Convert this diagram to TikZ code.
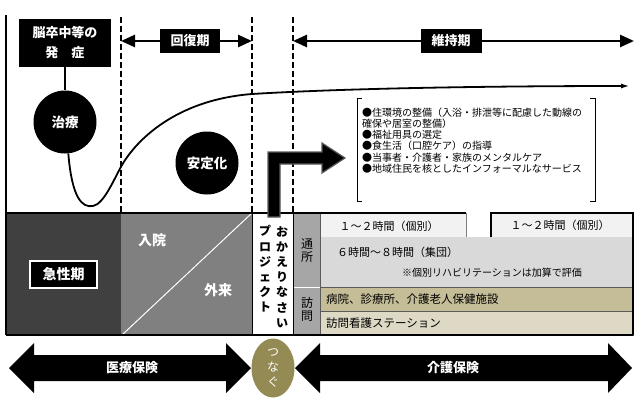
\documentclass[tikz,border=0pt]{standalone}
\usepackage{fontspec}
\setmainfont{Noto Sans CJK JP}
\usepackage{xcolor}
\usepackage{tikz}
\usetikzlibrary{arrows.meta,positioning,calc,shapes.geometric}
\definecolor{ink}{HTML}{000000}
\definecolor{acute}{HTML}{404040}
\definecolor{midgray}{HTML}{808080}
\definecolor{tabgray}{HTML}{A6A6A6}
\definecolor{rowlight}{HTML}{F2F2F2}
\definecolor{rowgray}{HTML}{D9D9D9}
\definecolor{khaki}{HTML}{C4BD97}
\definecolor{khakilight}{HTML}{DDD9C4}
\definecolor{olive}{HTML}{948A54}
\definecolor{rimgray}{HTML}{5A5A5A}
\newcommand{\fsz}[2]{\fontsize{#1}{#2}\selectfont}

\begin{document}
\begin{tikzpicture}[x=1pt,y=-1pt, every node/.style={inner sep=0pt}, hd/.style={fill=ink,text=white,font=\fsz{13}{20}\bfseries,align=center}, dot/.style={circle,fill=ink,text=white,minimum size=63pt,font=\fsz{13.5}{16}\bfseries}, dashline/.style={line width=1.5pt,dash pattern=on 6pt off 3pt}, span/.style={line width=2.5pt,{Triangle[length=14pt,width=12pt]}-{Triangle[length=14pt,width=12pt]}}, wt/.style={text=white,font=\fsz{14}{16}\bfseries}, cell/.style={font=\fsz{11}{13}}, vtext/.style={align=center,font=\fsz{12}{15.2}\bfseries}, band/.style={fill=ink}]
\useasboundingbox (0,0) rectangle (638,402);
\fill[white] (0,0) rectangle (638,402);

\fill[acute] (6,213) rectangle (121,335);
\fill[midgray] (121,213) rectangle (252,335);
\fill[tabgray] (293,213) rectangle (320,335);
\fill[rowlight] (320,213) rectangle (466,237);
\fill[rowlight] (491,213) rectangle (633,237);
\fill[rowgray] (320,237) rectangle (633,287);
\draw[rimgray,line width=.6pt,fill=khaki] (320,287) rectangle (633,311);
\draw[rimgray,line width=.6pt,fill=khakilight] (320,311) rectangle (633,335);
\draw[white,line width=1pt] (122,335) -- (252,213);
\draw[gray,line width=.6pt] (466,213) -- (466,237);
\draw[white,line width=.8pt] (293,287) -- (320,287);
\draw[rimgray,line width=.6pt] (320,213) -- (320,335);

\foreach \x in {121,252,293} \draw[dashline] (\x,17) -- (\x,213);
\draw[line width=1.8pt] (6,15) -- (6,335);
\draw[line width=1.8pt] (6,213) -- (466,213);
\draw[line width=1.8pt] (491,237) -- (491,213) -- (633,213) -- (633,335);
\draw[line width=1.2pt] (6,335) -- (633,335);
\draw[line width=1pt] (252,213) -- (252,335);
\draw[line width=1pt] (293,213) -- (293,335);

\node[hd,minimum width=92pt,minimum height=48pt] (onset) at (65,43) {脳卒中等の\\発　症};
\node[dot] (cure) at (65,122) {治療};
\node[dot] (stable) at (207,163) {安定化};
\draw[line width=1.5pt] (onset.south) -- (cure.north);
\draw[line width=1.8pt,-{Latex[length=9pt,width=5pt]}] (cure.-84) .. controls (72,198) and (82,208) .. (93,206) .. controls (104,204) and (114,179) .. (122,165) .. controls (136,141) and (175,100) .. (252,94) .. controls (350,88) and (500,86) .. (630,86);

\coordinate (r0) at (121,41);
\coordinate (r1) at (252,41);
\coordinate (m0) at (293,41);
\coordinate (m1) at (634,41);
\draw[span] (r0) -- (r1);
\draw[span] (m0) -- (m1);
\node[hd,minimum width=60pt,minimum height=24pt] (rec) at (190,41) {回復期};
\node[hd,minimum width=61pt,minimum height=24pt] (keep) at (451,41) {維持期};

\draw[line width=.8pt] (362,98) -- (357,98) -- (357,201) -- (362,201);
\draw[line width=.8pt] (590,98) -- (595,98) -- (595,201) -- (590,201);
\node[anchor=west,align=left,font=\fsz{10}{11.1}] (list) at (362,140.5) {●住環境の整備（入浴・排泄等に配慮した動線の\\確保や居室の整備）\\●福祉用具の選定\\●食生活（口腔ケア）の指導\\●当事者・介護者・家族のメンタルケア\\●地域住民を核としたインフォーマルなサービス};
\draw[rimgray,line width=1.2pt,fill=ink] (268,217) -- (268,152) -- (322,152) -- (322,143) -- (345,158) -- (322,173) -- (322,164) -- (280,164) -- (280,217) -- cycle;

\node[fill=ink,draw=white,line width=1.2pt,minimum width=67pt,minimum height=27pt,wt] (acu) at (63.5,274.5) {急性期};
\node[wt] (inp) at (152,240) {入院};
\node[wt] (outp) at (218,290) {外来};
\node[vtext] (home) at (282,277) {お\\か\\え\\り\\な\\さ\\い};
\node[vtext] (proj) at (265,269) {プ\\ロ\\ジ\\ェ\\ク\\ト};
\node[align=center,font=\fsz{12}{13}] (day) at (307,251) {通\\所};
\node[align=center,font=\fsz{12}{13}] (visit) at (307,309) {訪\\問};
\node[cell] (ind1) at (389,226) {１～２時間（個別）};
\node[cell] (ind2) at (560,225) {１～２時間（個別）};
\node[cell,anchor=west] (grp) at (337,252) {６時間～８時間（集団）};
\node[font=\fsz{10}{12}] (note) at (492,273) {※個別リハビリテーションは加算で評価};
\node[font=\fsz{11.5}{13},anchor=west] (hosp) at (326,299) {病院、診療所、介護老人保健施設};
\node[font=\fsz{11.5}{13},anchor=west] (nurse) at (326,323) {訪問看護ステーション};

\fill[band] (9,368) -- (34,343) -- (34,355) -- (226,355) -- (226,343) -- (251,368) -- (226,393) -- (226,381) -- (34,381) -- (34,393) -- cycle;
\fill[band] (295,368) -- (320,343) -- (320,355) -- (608,355) -- (608,343) -- (632,368) -- (608,393) -- (608,381) -- (320,381) -- (320,393) -- cycle;
\node[text=white,font=\fsz{13}{15}\bfseries] (med) at (132,368) {医療保険};
\node[text=white,font=\fsz{13}{15}\bfseries] (care) at (453,368) {介護保険};
\node[ellipse,fill=olive,minimum width=43pt,minimum height=59pt,text=white,align=center,font=\fsz{12}{15}] (link) at (273,368) {つ\\な\\ぐ};
\end{tikzpicture}
\end{document}
